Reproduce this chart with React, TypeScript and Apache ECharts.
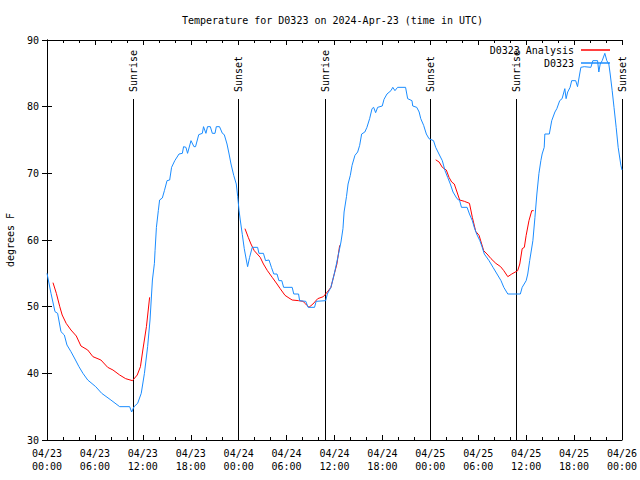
import React, { useEffect, useRef } from "react";
import * as echarts from "echarts";

// Hours since 04/23 00:00 UTC
const xTickLabels = [
  "04/23\n00:00", "04/23\n06:00", "04/23\n12:00", "04/23\n18:00",
  "04/24\n00:00", "04/24\n06:00", "04/24\n12:00", "04/24\n18:00",
  "04/25\n00:00", "04/25\n06:00", "04/25\n12:00", "04/25\n18:00",
  "04/26\n00:00",
];

const sunHours = [10.72, 23.87, 34.77, 47.9, 58.68, 71.95];
const sunLabels = ["Sunrise", "Sunset", "Sunrise", "Sunset", "Sunrise", "Sunset"];

const obsHours = [
  0, 0.5, 1, 1.33, 1.75, 2.17, 2.5, 3, 3.5, 4, 4.5, 5.1, 6.1, 6.85, 8.0, 9.1, 10.35, 10.6, 10.9, 11.35,
  11.8, 12.2, 12.6, 12.9, 13.2, 13.45, 13.53, 13.7, 13.94, 14.1, 14.44, 14.7, 15.03, 15.36, 15.6, 16.0,
  16.53, 16.95, 17.1, 17.4, 17.6, 18.03, 18.4, 18.6, 19.0, 19.45, 19.6, 19.9, 20.1, 20.45, 20.7, 21.04,
  21.2, 21.6, 21.96, 22.2, 22.54, 22.8, 23.04, 23.38, 23.7, 23.88, 24.05, 24.2, 24.46, 24.7, 24.96, 25.12,
  25.37, 25.7, 26.37, 26.54, 27.1, 27.37, 27.8, 28.1, 28.4, 28.8, 29.04, 29.4, 29.63, 30.7, 30.9, 31.5,
  31.63, 32.4, 32.7, 33.5, 33.7, 34.9, 35.1, 35.55, 35.97, 36.4, 36.81, 37.06, 37.2, 37.5, 37.7, 37.98,
  38.2, 38.56, 38.9, 39.15, 39.4, 39.8, 40.06, 40.4, 40.7, 40.9, 41.15, 41.4, 41.98, 42.2, 42.57, 43.07,
  43.3, 43.57, 43.9, 44.9, 45.16, 45.7, 45.8, 46.3, 46.6, 46.8, 47.16, 47.5, 47.83, 48.4, 48.67, 49.08,
  49.5, 49.84, 50.17, 50.5, 50.84, 51.34, 51.67, 51.9, 52.6, 52.9, 53.26, 53.5, 53.8, 54.2, 54.5, 54.76,
  55.35, 55.85, 56.35, 56.85, 57.2, 57.7, 59.27, 59.5, 60.0, 60.2, 60.44, 60.84, 61.1, 61.34, 61.6,
  61.84, 62.0, 62.26, 62.34, 62.9, 63.2, 63.6, 63.84, 64.2, 64.5, 64.84, 65.0, 65.2, 65.5, 65.7, 66.2,
  66.43, 66.7, 66.85, 67.27, 68.1, 68.35, 68.94, 69.1, 69.27, 69.52, 69.85, 70.1, 70.35, 70.52, 70.77,
  71.0, 71.27, 71.52, 71.86, 72.0,
];
const obsTempF = [
  55, 52, 49.25, 49, 46.25, 45.75, 44.25, 43.25, 42.15, 41, 40, 39, 38, 37, 36, 35, 35, 34.2, 35, 35.5,
  37, 40, 44, 48, 54, 56.5, 58.4, 61.9, 64.4, 66, 66.3, 67.4, 68.9, 69, 70.9, 71.9,
  72.9, 73, 74, 73.9, 73, 74.9, 74, 74, 75.8, 76, 77, 76, 77, 77, 76, 76,
  77, 77, 76, 75.8, 74.4, 72.9, 71.4, 69.7, 68.4, 66.5, 64.4, 63, 60.8, 58.7, 57, 56,
  57.4, 58.9, 58.9, 58, 58, 56.9, 57, 55.9, 54.9, 54.9, 53.9, 53.9, 52.9, 52.9, 51.9, 51.9,
  50.9, 50.8, 49.9, 49.9, 50.8, 50.9, 51.9, 52.9, 54.9, 57.3, 59.7, 61.7, 64.2, 66.5, 68.4, 69.7,
  71.2, 72.7, 73.2, 74.2, 75.9, 76.2, 76.9, 78.2, 79.7, 79.9, 79.1, 79.9, 80.1, 81.1, 81.9, 82.4,
  82.9, 82.4, 82.9, 82.9, 81.2, 80.9, 80.1, 79.9, 79.2, 78.2, 77.2, 75.9, 75.2, 74.9, 73.9, 72.9,
  71.9, 70.4, 69.4, 68.4, 67.2, 66.2, 65.9, 64.9, 64.9, 63.9, 62.9, 61.9, 60.9, 59.9, 58.9, 57.9,
  56.9, 55.9, 54.9, 53.9, 52.9, 51.9, 51.9, 52.9, 53.9, 54.9, 56.9, 59.9, 63.4, 66.9, 70,
  71.9, 72.9, 73.9, 75.9, 75.9, 77.9, 79.2, 79.7, 80.9, 81.2, 82.7, 81.2, 82.2, 82.9, 83.9, 83.9,
  83.0, 84.9, 85.9, 86.0, 85.9, 86.9, 86.9, 85.2, 86.4, 86.9, 88.0, 86.9, 86.4, 84.9, 82.4,
  79.9, 76.9, 73.9, 71.2, 70.5,
];

// null marks a gap between analysis runs
const anaHours = [
  0.75, 1.17, 1.6, 1.9, 2.4, 3, 3.67, 4.25, 5.1, 5.75, 6.75, 7.6, 8.26, 9.1, 9.85, 10.7, 11.3, 11.7, 12.0,
  12.45, 12.85, 18,
  24.79, 25.2, 25.54, 25.95, 26.7, 27.1, 27.6, 28.2, 28.8, 29.2, 29.8, 30.3, 30.7, 31.5, 32.05, 32.4,
  32.8, 33.3, 33.9, 34.6, 35.1, 35.55, 35.97, 36.3, 36.65, 42,
  48.67, 49.1, 49.5, 50.0, 50.34, 50.67, 51.0, 51.34, 51.67, 52.26, 52.9, 53.26, 53.68, 54.1, 54.43,
  54.68, 55.1, 55.6, 56.2, 56.8, 57.2, 57.7, 58.2, 58.94, 59.2, 59.5, 59.77, 60.0, 60.35, 60.7, 60.94,
];
const anaTempF: (number | null)[] = [
  53.6, 52, 50, 48.75, 47.5, 46.5, 45.6, 44.1, 43.5, 42.5, 42, 40.9, 40.5, 39.75, 39.2, 38.9, 39.75, 41, 43.5,
  47, 51.4, null,
  61.7, 60.4, 59.4, 58.4, 57.4, 56.4, 55.4, 54.4, 53.4, 52.7, 51.7, 51.3, 51, 50.9, 50.8, 50.4,
  49.9, 50.4, 51.2, 51.5, 52.2, 52.9, 54.9, 56.4, 59.2, null,
  72.03, 71.7, 70.9, 70.5, 69.4, 68.7, 68.4, 67.2, 66, 65.8, 65.5, 63.4, 61.3, 60.7, 59.4,
  58.4, 57.9, 57.2, 56.5, 56, 55.4, 54.5, 54.9, 55.4, 56.4, 58.7, 58.9, 60.7, 62.9, 64.4, 64.4,
];

const FONT = "DejaVu Sans Mono";
const BLUE = "#1a8cff";
const RED = "#ff0000";

export default function App() {
  const ref = useRef<HTMLDivElement>(null);
  useEffect(() => {
    if (!ref.current) return;
    const chart = echarts.init(ref.current, undefined, { renderer: "svg" });
    const txt = { fontFamily: FONT, fontSize: 10, color: "#000" };
    const xBase = {
      type: "value" as const,
      min: 0,
      max: 72,
      interval: 6,
      axisLine: { show: true, lineStyle: { color: "#000", width: 1 } },
      axisTick: { show: true, inside: true, length: 5, lineStyle: { color: "#000" } },
      minorTick: { show: true, splitNumber: 3, length: 3, lineStyle: { color: "#000" } },
      splitLine: { show: false },
      minorSplitLine: { show: false },
    };
    const yBase = {
      type: "value" as const,
      min: 30,
      max: 90,
      interval: 10,
      axisLine: { show: true, lineStyle: { color: "#000", width: 1 } },
      axisTick: { show: true, inside: true, length: 5, lineStyle: { color: "#000" } },
      splitLine: { show: false },
    };
    const legendBase = {
      right: 30,
      padding: 0,
      orient: "vertical" as const,
      align: "right" as const,
      icon: "rect",
      itemWidth: 29,
      itemHeight: 1.5,
      itemGap: 0,
      textStyle: { ...txt, padding: [0, 2, 0, 0] },
      selectedMode: false,
    };
    chart.setOption({
      animation: false,
      backgroundColor: "#fff",
      title: {
        text: "Temperature for D0323 on 2024-Apr-23 (time in UTC)",
        left: 182,
        top: 15,
        padding: 0,
        textStyle: { ...txt, fontWeight: "normal" },
      },
      legend: [
        { ...legendBase, data: ["D0323 Analysis"], top: 45 },
        { ...legendBase, data: ["D0323"], top: 58 },
      ],
      grid: {
        left: 47,
        right: 18,
        top: 40,
        bottom: 40,
        containLabel: false,
        outerBoundsMode: "none",
      },
      xAxis: [
        {
          ...xBase,
          position: "bottom",
          axisLabel: {
            ...txt,
            margin: 7,
            lineHeight: 13,
            formatter: (v: number) => xTickLabels[Math.round(v / 6)] ?? "",
          },
        },
        { ...xBase, position: "top", axisLabel: { show: false } },
      ],
      yAxis: [
        {
          ...yBase,
          position: "left",
          name: "degrees F",
          nameLocation: "middle",
          nameGap: 32,
          nameRotate: 90,
          nameTextStyle: { ...txt },
          axisLabel: { ...txt, margin: 8 },
        },
        { ...yBase, position: "right", axisLabel: { show: false } },
      ],
      series: [
        {
          type: "custom",
          name: "sun",
          xAxisIndex: 0,
          yAxisIndex: 0,
          clip: false,
          z: 1,
          data: sunHours.map((h) => [h, 30]),
          encode: { x: 0, y: 1 },
          renderItem: (params: any, api: any) => {
            const h = api.value(0);
            const top = api.coord([h, 90]);
            const bot = api.coord([h, 30]);
            const x = Math.round(top[0]) + 0.5;
            return {
              type: "group",
              children: [
                {
                  type: "line",
                  shape: { x1: x, y1: top[1] + 59, x2: x, y2: bot[1] },
                  style: { stroke: "#000", lineWidth: 1 },
                },
                {
                  type: "text",
                  x: x,
                  y: top[1] + 52,
                  rotation: Math.PI / 2,
                  style: {
                    text: sunLabels[params.dataIndex],
                    fill: "#000",
                    font: `10px "${FONT}"`,
                    align: "left",
                    verticalAlign: "middle",
                  },
                },
              ],
            };
          },
        },
        {
          type: "line",
          name: "D0323 Analysis",
          data: anaHours.map((h, i) => [h, anaTempF[i] == null ? "-" : anaTempF[i]]),
          showSymbol: false,
          symbol: "none",
          connectNulls: false,
          lineStyle: { color: RED, width: 1 },
          itemStyle: { color: RED },
          z: 3,
        },
        {
          type: "line",
          name: "D0323",
          data: obsHours.map((h, i) => [h, obsTempF[i]]),
          showSymbol: false,
          symbol: "none",
          lineStyle: { color: BLUE, width: 1 },
          itemStyle: { color: BLUE },
          z: 4,
        },
      ],
    });
    return () => chart.dispose();
  }, []);
  return (
    <div
      ref={ref}
      style={{ position: "fixed", left: 0, top: 0, width: 640, height: 480, background: "#fff" }}
    />
  );
}
